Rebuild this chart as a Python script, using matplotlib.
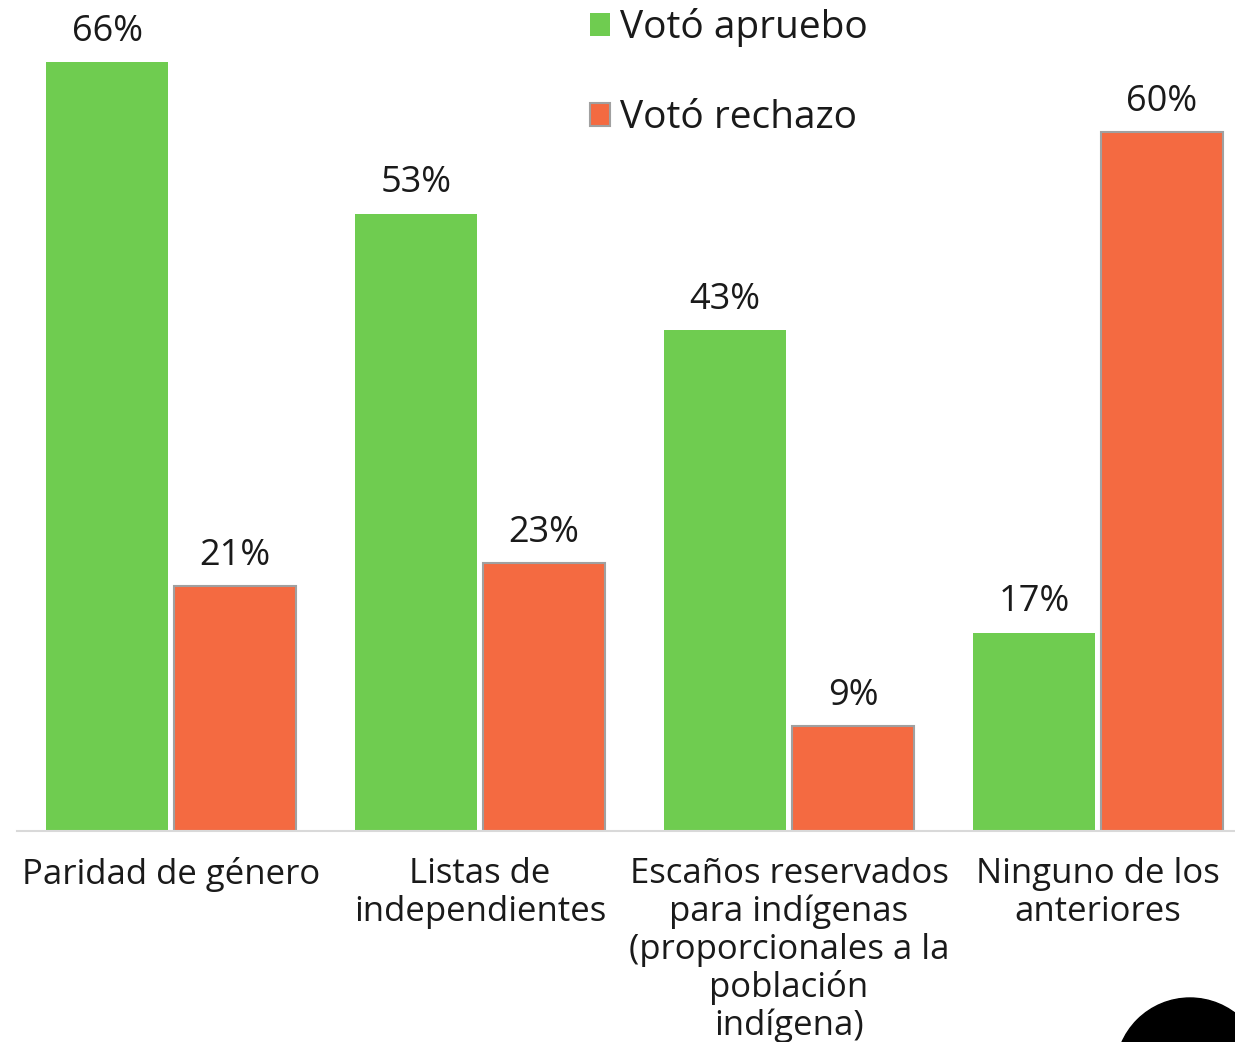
import matplotlib
matplotlib.use("Agg")

import matplotlib.pyplot as plt
from matplotlib.patches import Circle
import numpy as np

plt.rcParams['font.family'] = ['Open Sans', 'DejaVu Sans']

# data
categories = ["Paridad de género", "Listas de\nindependientes",
              "Escaños reservados\npara indígenas\n(proporcionales a la\npoblación\nindígena)",
              "Ninguno de los\nanteriores"]
apruebo = [66, 53, 43, 17]
rechazo = [21, 23, 9, 60]
series_names = ["Votó apruebo", "Votó rechazo"]

GREEN = "#6fcc50"
ORANGE = "#f46a41"
TEXT = "#1a1a1a"

fig = plt.figure(figsize=(12.35, 10.42), dpi=100)
W, H = 1235, 1042
# axes in pixel terms: x from 16.5 (center of first group 171, group pitch 309), baseline y=831
ax = fig.add_axes([16.5 / W, (H - 831) / H, 1236 / W, 812 / H])

x = np.arange(len(categories))
bw = 122 / 309
gap = 6 / 309
b1 = ax.bar(x - (bw + gap) / 2, apruebo, bw, color=GREEN, label=series_names[0])
b2 = ax.bar(x + (bw + gap) / 2, rechazo, bw, color=ORANGE, edgecolor="#a0a0a0",
            linewidth=1.5, label=series_names[1])

for bars, vals in ((b1, apruebo), (b2, rechazo)):
    for rect, v in zip(bars, vals):
        ax.annotate(f"{v}%", (rect.get_x() + rect.get_width() / 2, v),
                    xytext=(0, 9), textcoords="offset points",
                    ha="center", va="bottom", fontsize=26, color=TEXT)

ax.set_xlim(-0.5, 3.5)
ax.set_ylim(0, 69.7)
ax.set_xticks(x)
ax.set_xticklabels(categories, fontsize=25, color=TEXT, linespacing=1.13)
ax.tick_params(axis="x", length=0, pad=19)
ax.set_yticks([])
for s in ("left", "right", "top"):
    ax.spines[s].set_visible(False)
ax.spines["bottom"].set_color("#d9d9d9")
ax.spines["bottom"].set_linewidth(1.5)

leg = fig.legend(handles=[b1, b2], loc="upper left", bbox_to_anchor=(590 / W, 1 - 8 / H),
                 frameon=False, fontsize=28, labelspacing=1.35, handlelength=0.52,
                 handleheight=0.52, handletextpad=0.25, borderpad=0, borderaxespad=0)
for t in leg.get_texts():
    t.set_color(TEXT)

# black circle cut off at the bottom right corner
fig.patches.append(Circle((11.90, -0.305), 0.745, transform=fig.dpi_scale_trans,
                          color="black", zorder=5))

fig.savefig("out.png", dpi=100)
